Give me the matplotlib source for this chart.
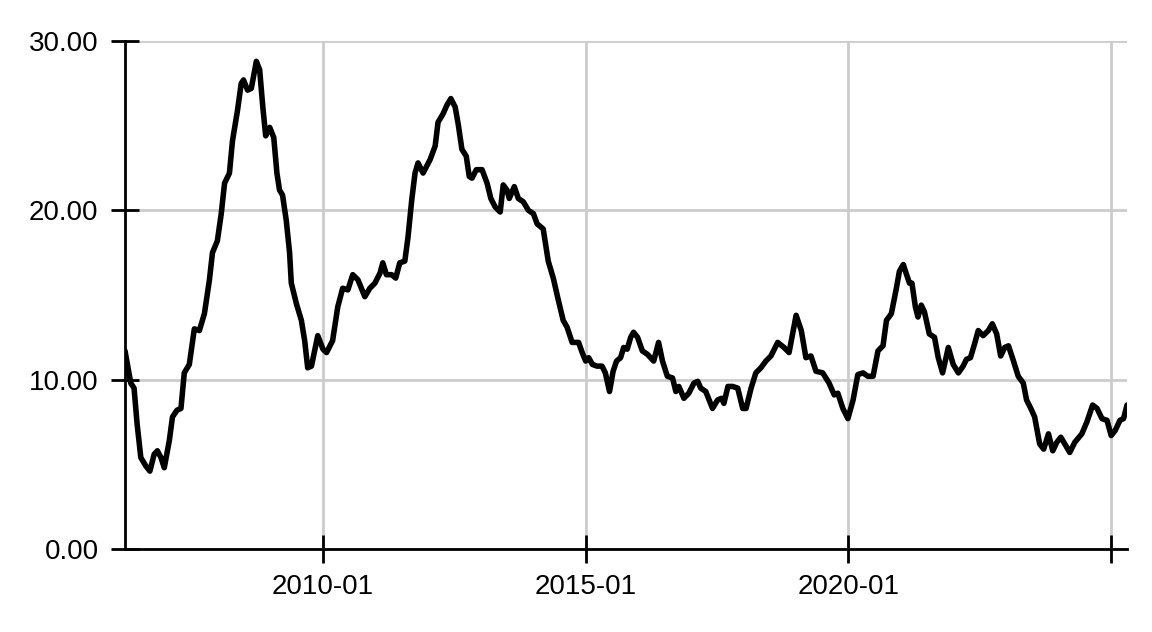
import matplotlib
matplotlib.use("Agg")
import matplotlib.pyplot as plt
import pandas as pd

dates = [
    "2006-03-27", "2006-05-06", "2006-05-29", "2006-06-19", "2006-07-15", "2006-08-19",
    "2006-09-16", "2006-10-16", "2006-11-07", "2006-12-02", "2006-12-25", "2007-01-29",
    "2007-02-20", "2007-03-24", "2007-04-20", "2007-05-13", "2007-06-17", "2007-07-22",
    "2007-08-26", "2007-09-30", "2007-11-04", "2007-11-25", "2007-12-29", "2008-01-25",
    "2008-02-17", "2008-03-22", "2008-04-12", "2008-05-17", "2008-06-12", "2008-06-28",
    "2008-07-26", "2008-08-21", "2008-09-25", "2008-10-18", "2008-11-09", "2008-11-29",
    "2008-12-27", "2009-01-24", "2009-02-15", "2009-03-05", "2009-03-26", "2009-04-21",
    "2009-05-14", "2009-05-26", "2009-06-30", "2009-08-04", "2009-08-27", "2009-09-17",
    "2009-10-13", "2009-11-26", "2010-01-01", "2010-01-26", "2010-03-09", "2010-04-14",
    "2010-05-18", "2010-06-23", "2010-07-27", "2010-09-01", "2010-10-19", "2010-11-23",
    "2010-12-28", "2011-02-02", "2011-02-21", "2011-03-18", "2011-04-23", "2011-05-22",
    "2011-06-19", "2011-07-24", "2011-08-15", "2011-09-10", "2011-10-03", "2011-10-24",
    "2011-11-28", "2012-01-16", "2012-02-20", "2012-03-11", "2012-04-15", "2012-05-11",
    "2012-06-08", "2012-07-08", "2012-07-29", "2012-08-24", "2012-09-23", "2012-10-14",
    "2012-11-02", "2012-12-02", "2013-01-11", "2013-02-15", "2013-03-13", "2013-04-12",
    "2013-05-17", "2013-06-07", "2013-07-03", "2013-07-19", "2013-08-23", "2013-09-20",
    "2013-10-25", "2013-11-29", "2014-01-03", "2014-01-29", "2014-03-12", "2014-04-16",
    "2014-05-21", "2014-06-25", "2014-07-29", "2014-08-25", "2014-09-29", "2014-11-13",
    "2014-12-08", "2015-01-01", "2015-01-22", "2015-02-17", "2015-03-21", "2015-04-25",
    "2015-05-18", "2015-06-16", "2015-07-11", "2015-08-04", "2015-09-01", "2015-09-22",
    "2015-10-17", "2015-11-10", "2015-11-30", "2015-12-28", "2016-01-30", "2016-03-05",
    "2016-04-18", "2016-05-22", "2016-06-18", "2016-07-22", "2016-08-27", "2016-09-19",
    "2016-10-10", "2016-11-14", "2016-12-18", "2017-01-23", "2017-02-18", "2017-03-11",
    "2017-04-15", "2017-06-01", "2017-07-06", "2017-08-03", "2017-08-19", "2017-09-16",
    "2017-10-19", "2017-11-23", "2017-12-28", "2018-01-20", "2018-02-24", "2018-03-29",
    "2018-05-03", "2018-06-07", "2018-07-12", "2018-08-28", "2018-10-11", "2018-11-15",
    "2019-01-03", "2019-02-08", "2019-03-12", "2019-04-16", "2019-05-21", "2019-07-07",
    "2019-08-20", "2019-09-25", "2019-10-20", "2019-11-24", "2019-12-29", "2020-02-03",
    "2020-03-07", "2020-04-12", "2020-05-16", "2020-06-21", "2020-07-25", "2020-08-29",
    "2020-09-22", "2020-10-26", "2020-11-30", "2020-12-21", "2021-01-17", "2021-02-09",
    "2021-03-01", "2021-03-18", "2021-04-11", "2021-04-29", "2021-05-22", "2021-06-13",
    "2021-07-17", "2021-08-22", "2021-09-17", "2021-10-17", "2021-11-26", "2021-12-30",
    "2022-02-04", "2022-03-09", "2022-04-01", "2022-04-29", "2022-05-27", "2022-06-22",
    "2022-07-26", "2022-08-31", "2022-09-28", "2022-10-28", "2022-11-25", "2022-12-23",
    "2023-01-18", "2023-02-22", "2023-03-27", "2023-05-01", "2023-05-24", "2023-06-28",
    "2023-07-19", "2023-08-23", "2023-09-20", "2023-10-23", "2023-11-22", "2023-12-20",
    "2024-01-17", "2024-02-14", "2024-03-19", "2024-04-23", "2024-06-11", "2024-07-16",
    "2024-08-25", "2024-09-25", "2024-10-29", "2024-12-03", "2025-01-01", "2025-01-29",
    "2025-03-03", "2025-03-28", "2025-04-21",
]

values = [
    11.7, 9.8, 9.5, 7.4, 5.4, 4.9,
    4.6, 5.6, 5.8, 5.4, 4.8, 6.4,
    7.8, 8.2, 8.3, 10.4, 10.9, 13.0,
    12.9, 13.9, 15.9, 17.5, 18.2, 19.8,
    21.6, 22.2, 24.1, 25.9, 27.5, 27.7,
    27.1, 27.2, 28.8, 28.3, 26.1, 24.4,
    24.9, 24.3, 22.2, 21.2, 20.9, 19.4,
    17.5, 15.7, 14.5, 13.5, 12.3, 10.7,
    10.8, 12.6, 11.8, 11.6, 12.3, 14.3,
    15.4, 15.3, 16.2, 15.9, 14.9, 15.4,
    15.7, 16.3, 16.9, 16.2, 16.2, 16.0,
    16.9, 17.0, 18.4, 20.6, 22.2, 22.8,
    22.2, 23.0, 23.8, 25.2, 25.7, 26.2,
    26.6, 26.1, 25.1, 23.6, 23.2, 22.0,
    21.9, 22.4, 22.4, 21.6, 20.7, 20.2,
    19.9, 21.5, 21.2, 20.7, 21.4, 20.7,
    20.5, 20.0, 19.8, 19.2, 18.9, 17.0,
    16.0, 14.7, 13.5, 13.1, 12.2, 12.2,
    11.6, 11.1, 11.3, 10.9, 10.8, 10.8,
    10.4, 9.3, 10.5, 11.1, 11.3, 11.9,
    11.8, 12.5, 12.8, 12.5, 11.7, 11.5,
    11.1, 12.2, 11.1, 10.2, 10.1, 9.3,
    9.6, 8.9, 9.2, 9.8, 9.9, 9.5,
    9.3, 8.3, 8.8, 8.9, 8.6, 9.6,
    9.6, 9.5, 8.3, 8.3, 9.5, 10.4,
    10.7, 11.1, 11.4, 12.2, 11.9, 11.6,
    13.8, 12.9, 11.3, 11.4, 10.5, 10.4,
    9.8, 9.1, 9.2, 8.3, 7.7, 8.8,
    10.3, 10.4, 10.2, 10.2, 11.7, 12.0,
    13.5, 13.9, 15.4, 16.4, 16.8, 16.2,
    15.7, 15.7, 14.3, 13.7, 14.4, 14.0,
    12.7, 12.5, 11.3, 10.4, 11.9, 10.9,
    10.4, 10.8, 11.2, 11.3, 12.1, 12.9,
    12.6, 12.9, 13.3, 12.7, 11.4, 11.9,
    12.0, 11.1, 10.2, 9.8, 8.8, 8.2,
    7.8, 6.2, 5.9, 6.8, 5.8, 6.3,
    6.6, 6.2, 5.7, 6.3, 6.8, 7.5,
    8.5, 8.3, 7.7, 7.6, 6.7, 7.0,
    7.6, 7.7, 8.5,
]

tick_dates = ["2010-01-01", "2015-01-01", "2020-01-01", "2025-01-01"]
tick_labels = ["2010-01", "2015-01", "2020-01", ""]
y_ticks = [0, 10, 20, 30]

x = pd.to_datetime(dates)

plt.rcParams["font.family"] = ["Liberation Sans", "DejaVu Sans"]

fig = plt.figure(figsize=(11.52, 6.32), dpi=100)
ax = fig.add_axes([125 / 1152, 1 - 549 / 632, 1002 / 1152, 508 / 632])

ax.plot(x, values, color="black", linewidth=4.0,
        solid_joinstyle="round", solid_capstyle="round", zorder=3)

ax.set_xlim(x.min(), x.max())
ax.set_ylim(0, 30)

ax.set_xticks(pd.to_datetime(tick_dates))
ax.set_xticklabels(tick_labels)
ax.set_yticks(y_ticks)
ax.yaxis.set_major_formatter(plt.FuncFormatter(lambda v, p: f"{v:.2f}"))

ax.grid(True, color="#cccccc", linewidth=2.0, zorder=0)
ax.set_axisbelow(True)

for s in ["top", "right"]:
    ax.spines[s].set_visible(False)
for s in ["left", "bottom"]:
    ax.spines[s].set_linewidth(2.0)
    ax.spines[s].set_color("black")

ax.tick_params(axis="both", direction="inout", length=20, width=2.0,
               labelsize=20, colors="black")
ax.tick_params(axis="x", pad=8)
ax.tick_params(axis="y", pad=9)

fig.savefig("out.png", dpi=100)
